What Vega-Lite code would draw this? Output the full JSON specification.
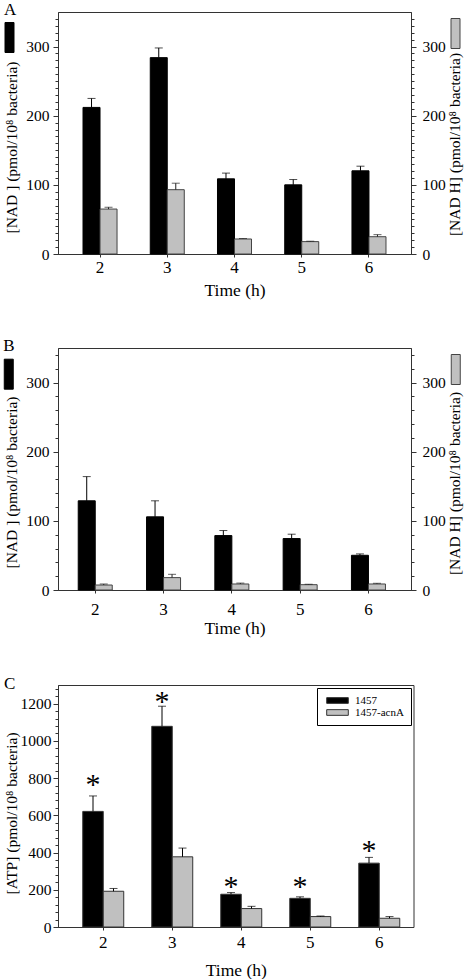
{
  "$schema": "https://vega.github.io/schema/vega-lite/v6.json",
  "padding": {"left": 2, "top": 0, "right": 0, "bottom": 0},
  "background": "white",
  "spacing": 37,
  "config": {
    "view": {"stroke": "#333", "strokeWidth": 1},
    "font": "Liberation Serif",
    "axis": {"labelFont": "Liberation Serif", "titleFont": "Liberation Serif", "titleFontWeight": "normal", "labelColor": "#000", "titleColor": "#000", "domainColor": "#333", "tickColor": "#333", "grid": false, "labelOverlap": false, "labelFlush": false},
    "title": {"font": "Liberation Serif", "fontWeight": "normal", "fontSize": 17, "anchor": "start", "frame": "bounds", "offset": 0, "color": "#000"},
    "legend": {"labelFont": "Liberation Serif"}
  },
  "datasets": {
    "nad": [
      {"panel": "A", "time": "2", "series": "NAD", "value": 212, "err": 225},
      {"panel": "A", "time": "3", "series": "NAD", "value": 284, "err": 298},
      {"panel": "A", "time": "4", "series": "NAD", "value": 108.7, "err": 117},
      {"panel": "A", "time": "5", "series": "NAD", "value": 100, "err": 107.7},
      {"panel": "A", "time": "6", "series": "NAD", "value": 120.3, "err": 127},
      {"panel": "A", "time": "2", "series": "NADH", "value": 65, "err": 67.6},
      {"panel": "A", "time": "3", "series": "NADH", "value": 93, "err": 102.4},
      {"panel": "A", "time": "4", "series": "NADH", "value": 21.7, "err": 22.4},
      {"panel": "A", "time": "5", "series": "NADH", "value": 17.9, "err": 18.5},
      {"panel": "A", "time": "6", "series": "NADH", "value": 25, "err": 28},
      {"panel": "B", "time": "2", "series": "NAD", "value": 129, "err": 164},
      {"panel": "B", "time": "3", "series": "NAD", "value": 105.8, "err": 129},
      {"panel": "B", "time": "4", "series": "NAD", "value": 78.7, "err": 86},
      {"panel": "B", "time": "5", "series": "NAD", "value": 74.4, "err": 80.7},
      {"panel": "B", "time": "6", "series": "NAD", "value": 50.2, "err": 52.2},
      {"panel": "B", "time": "2", "series": "NADH", "value": 7.2, "err": 8.7},
      {"panel": "B", "time": "3", "series": "NADH", "value": 17.9, "err": 22.7},
      {"panel": "B", "time": "4", "series": "NADH", "value": 8.7, "err": 10},
      {"panel": "B", "time": "5", "series": "NADH", "value": 7.7, "err": 8.3},
      {"panel": "B", "time": "6", "series": "NADH", "value": 8.7, "err": 9.7}
    ],
    "atp": [
      {"time": "2", "strain": "1457", "value": 621, "err": 704, "star": 796},
      {"time": "3", "strain": "1457", "value": 1078, "err": 1186, "star": 1239},
      {"time": "4", "strain": "1457", "value": 176, "err": 185, "star": 248},
      {"time": "5", "strain": "1457", "value": 154, "err": 162, "star": 248},
      {"time": "6", "strain": "1457", "value": 343, "err": 374, "star": 442},
      {"time": "2", "strain": "1457-acnA", "value": 192, "err": 207},
      {"time": "3", "strain": "1457-acnA", "value": 377, "err": 424},
      {"time": "4", "strain": "1457-acnA", "value": 99, "err": 111},
      {"time": "5", "strain": "1457-acnA", "value": 56, "err": 59},
      {"time": "6", "strain": "1457-acnA", "value": 47, "err": 56}
    ]
  },
  "vconcat": [
    {
      "title": {"text": "A", "offset": -7.5},
      "width": 353,
      "height": 242,
      "data": {"name": "nad"},
      "transform": [{"filter": "datum.panel === 'A'"}],
      "encoding": {
        "x": {"field": "time", "type": "nominal", "scale": {"paddingInner": 0.494, "paddingOuter": 0.372},
          "axis": {"title": "Time (h)", "labelAngle": 0, "labelFontSize": 17, "titleFontSize": 17.5, "tickSize": 3, "labelPadding": 2, "titlePadding": 6}},
        "xOffset": {"field": "series", "type": "nominal", "scale": {"domain": ["NAD", "NADH"]}}
      },
      "layer": [
        {
          "transform": [{"filter": "datum.series === 'NAD'"}],
          "mark": {"type": "bar", "stroke": "#000", "strokeWidth": 1},
          "encoding": {
            "y": {"field": "value", "type": "quantitative", "scale": {"domain": [0, 350]},
              "axis": {"title": "[NAD ] (pmol/10⁸ bacteria)", "values": [0,10,20,30,40,50,60,70,80,90,100,110,120,130,140,150,160,170,180,190,200,210,220,230,240,250,260,270,280,290,300,310,320,330,340],
                "labelExpr": "datum.value % 100 === 0 ? datum.label : ''", "tickSize": {"condition": {"test": "datum.value % 100 === 0", "value": 5}, "value": 3},
                "labelFontSize": 15.5, "titleFontSize": 15.5, "labelPadding": 4, "titlePadding": 6, "titleY": 135}},
            "fill": {"field": "series", "type": "nominal", "scale": {"domain": ["NAD"], "range": ["#000"]},
              "legend": {"orient": "none", "legendX": -54, "legendY": 20, "title": null, "labelExpr": "''", "padding": 0, "labelOffset": 0, "labelFontSize": 1,
                "symbolType": "M-0.9,-3H0.9V3H-0.9Z", "symbolSize": 100, "symbolStrokeColor": "#000", "symbolStrokeWidth": 1}}
          }
        },
        {
          "transform": [{"filter": "datum.series === 'NAD'"}],
          "mark": {"type": "rule", "color": "#000", "strokeWidth": 1},
          "encoding": {"y": {"field": "value", "type": "quantitative", "scale": {"domain": [0, 350]}, "axis": null}, "y2": {"field": "err"}}
        },
        {
          "transform": [{"filter": "datum.series === 'NAD'"}],
          "mark": {"type": "tick", "color": "#000", "size": 8, "thickness": 1},
          "encoding": {"y": {"field": "err", "type": "quantitative", "scale": {"domain": [0, 350]}, "axis": null}}
        },
        {
          "transform": [{"filter": "datum.series === 'NADH'"}],
          "mark": {"type": "bar", "stroke": "#444", "strokeWidth": 1},
          "encoding": {
            "y": {"field": "value", "type": "quantitative", "scale": {"domain": [0, 350]},
              "axis": {"orient": "right", "title": "[NAD H] (pmol/10⁸ bacteria)", "titleAngle": 270, "titleBaseline": "top", "values": [0,10,20,30,40,50,60,70,80,90,100,110,120,130,140,150,160,170,180,190,200,210,220,230,240,250,260,270,280,290,300,310,320,330,340],
                "labelExpr": "datum.value % 100 === 0 ? datum.label : ''", "tickSize": {"condition": {"test": "datum.value % 100 === 0", "value": 5}, "value": 3},
                "labelFontSize": 15.5, "titleFontSize": 15.5, "labelPadding": 6, "titlePadding": 2, "titleY": 132}},
            "color": {"field": "series", "type": "nominal", "scale": {"domain": ["NADH"], "range": ["#c0c0c0"]},
              "legend": {"orient": "none", "legendX": 392, "legendY": 16, "title": null, "labelExpr": "''", "padding": 0, "labelOffset": 0, "labelFontSize": 1,
                "symbolType": "M-0.9,-3H0.9V3H-0.9Z", "symbolSize": 100, "symbolStrokeColor": "#444", "symbolStrokeWidth": 1}}
          }
        },
        {
          "transform": [{"filter": "datum.series === 'NADH'"}],
          "mark": {"type": "rule", "color": "#222", "strokeWidth": 1},
          "encoding": {"y": {"field": "value", "type": "quantitative", "scale": {"domain": [0, 350]}, "axis": null}, "y2": {"field": "err"}}
        },
        {
          "transform": [{"filter": "datum.series === 'NADH'"}],
          "mark": {"type": "tick", "color": "#222", "size": 8, "thickness": 1},
          "encoding": {"y": {"field": "err", "type": "quantitative", "scale": {"domain": [0, 350]}, "axis": null}}
        }
      ],
      "resolve": {"scale": {"y": "independent"}}
    },
    {
      "title": {"text": "B", "offset": -7.5},
      "width": 353,
      "height": 242,
      "data": {"name": "nad"},
      "transform": [{"filter": "datum.panel === 'B'"}],
      "encoding": {
        "x": {"field": "time", "type": "nominal", "scale": {"paddingInner": 0.502, "paddingOuter": 0.335, "align": 0.442},
          "axis": {"title": "Time (h)", "labelAngle": 0, "labelFontSize": 17, "titleFontSize": 17.5, "tickSize": 3, "labelPadding": 8, "titlePadding": 2}},
        "xOffset": {"field": "series", "type": "nominal", "scale": {"domain": ["NAD", "NADH"]}}
      },
      "layer": [
        {
          "transform": [{"filter": "datum.series === 'NAD'"}],
          "mark": {"type": "bar", "stroke": "#000", "strokeWidth": 1},
          "encoding": {
            "y": {"field": "value", "type": "quantitative", "scale": {"domain": [0, 350]},
              "axis": {"title": "[NAD ] (pmol/10⁸ bacteria)", "values": [0,20,40,60,80,100,120,140,160,180,200,220,240,260,280,300,320,340],
                "labelExpr": "datum.value % 100 === 0 ? datum.label : ''", "tickSize": {"condition": {"test": "datum.value % 100 === 0", "value": 5}, "value": 3},
                "labelFontSize": 15.5, "titleFontSize": 15.5, "labelPadding": 4, "titlePadding": 6, "titleY": 134}},
            "fill": {"field": "series", "type": "nominal", "scale": {"domain": ["NAD"], "range": ["#000"]},
              "legend": {"orient": "none", "legendX": -54.75, "legendY": 20.7, "title": null, "labelExpr": "''", "padding": 0, "labelOffset": 0, "labelFontSize": 1,
                "symbolType": "M-0.9,-3H0.9V3H-0.9Z", "symbolSize": 100, "symbolStrokeColor": "#000", "symbolStrokeWidth": 1}}
          }
        },
        {
          "transform": [{"filter": "datum.series === 'NAD'"}],
          "mark": {"type": "rule", "color": "#000", "strokeWidth": 1},
          "encoding": {"y": {"field": "value", "type": "quantitative", "scale": {"domain": [0, 350]}, "axis": null}, "y2": {"field": "err"}}
        },
        {
          "transform": [{"filter": "datum.series === 'NAD'"}],
          "mark": {"type": "tick", "color": "#000", "size": 8, "thickness": 1},
          "encoding": {"y": {"field": "err", "type": "quantitative", "scale": {"domain": [0, 350]}, "axis": null}}
        },
        {
          "transform": [{"filter": "datum.series === 'NADH'"}],
          "mark": {"type": "bar", "stroke": "#444", "strokeWidth": 1},
          "encoding": {
            "y": {"field": "value", "type": "quantitative", "scale": {"domain": [0, 350]},
              "axis": {"orient": "right", "title": "[NAD H] (pmol/10⁸ bacteria)", "titleAngle": 270, "titleBaseline": "top", "values": [0,20,40,60,80,100,120,140,160,180,200,220,240,260,280,300,320,340],
                "labelExpr": "datum.value % 100 === 0 ? datum.label : ''", "tickSize": {"condition": {"test": "datum.value % 100 === 0", "value": 5}, "value": 3},
                "labelFontSize": 15.5, "titleFontSize": 15.5, "labelPadding": 6, "titlePadding": 2, "titleY": 135}},
            "color": {"field": "series", "type": "nominal", "scale": {"domain": ["NADH"], "range": ["#c0c0c0"]},
              "legend": {"orient": "none", "legendX": 392.25, "legendY": 16, "title": null, "labelExpr": "''", "padding": 0, "labelOffset": 0, "labelFontSize": 1,
                "symbolType": "M-0.9,-3H0.9V3H-0.9Z", "symbolSize": 100, "symbolStrokeColor": "#444", "symbolStrokeWidth": 1}}
          }
        },
        {
          "transform": [{"filter": "datum.series === 'NADH'"}],
          "mark": {"type": "rule", "color": "#222", "strokeWidth": 1},
          "encoding": {"y": {"field": "value", "type": "quantitative", "scale": {"domain": [0, 350]}, "axis": null}, "y2": {"field": "err"}}
        },
        {
          "transform": [{"filter": "datum.series === 'NADH'"}],
          "mark": {"type": "tick", "color": "#222", "size": 8, "thickness": 1},
          "encoding": {"y": {"field": "err", "type": "quantitative", "scale": {"domain": [0, 350]}, "axis": null}}
        }
      ],
      "resolve": {"scale": {"y": "independent"}}
    },
    {
      "title": {"text": "C", "offset": -11},
      "width": 355.5,
      "height": 242,
      "data": {"name": "atp"},
      "encoding": {
        "x": {"field": "time", "type": "nominal", "scale": {"paddingInner": 0.406, "paddingOuter": 0.279, "align": 0.643},
          "axis": {"title": "Time (h)", "labelAngle": 0, "labelFontSize": 17, "titleFontSize": 17.5, "tickSize": 3, "labelPadding": 4, "titlePadding": 11}},
        "xOffset": {"field": "strain", "type": "nominal", "scale": {"domain": ["1457", "1457-acnA"]}}
      },
      "layer": [
        {
          "mark": {"type": "bar", "stroke": "#333", "strokeWidth": 1},
          "encoding": {
            "y": {"field": "value", "type": "quantitative", "scale": {"domain": [0, 1300]},
              "axis": {"title": "[ATP] (pmol/10⁸ bacteria)", "format": "d", "values": [0,40,80,120,160,200,240,280,320,360,400,440,480,520,560,600,640,680,720,760,800,840,880,920,960,1000,1040,1080,1120,1160,1200,1240,1280],
                "labelExpr": "datum.value % 200 === 0 ? datum.label : ''", "tickSize": {"condition": {"test": "datum.value % 200 === 0", "value": 5}, "value": 3},
                "labelFontSize": 15.5, "titleFontSize": 15.5, "labelPadding": 2, "titlePadding": 1, "titleY": 128}},
            "color": {"field": "strain", "type": "nominal", "scale": {"domain": ["1457", "1457-acnA"], "range": ["#000", "#c0c0c0"]},
              "legend": {"orient": "top-right", "offset": 3, "title": null, "strokeColor": "#000", "fillColor": "#fff", "padding": 7,
                "labelFontSize": 11, "labelColor": "#000", "symbolType": "M-3.6,-0.95H3.6V0.95H-3.6Z", "symbolSize": 36, "symbolStrokeColor": "#333", "symbolStrokeWidth": 1,
                "symbolOffset": 8, "labelOffset": 12, "rowPadding": 0}}
          }
        },
        {
          "mark": {"type": "rule", "color": "#000", "strokeWidth": 1},
          "encoding": {"y": {"field": "value", "type": "quantitative", "scale": {"domain": [0, 1300]}, "axis": null}, "y2": {"field": "err"}}
        },
        {
          "mark": {"type": "tick", "color": "#000", "size": 8, "thickness": 1},
          "encoding": {"y": {"field": "err", "type": "quantitative", "scale": {"domain": [0, 1300]}, "axis": null}}
        },
        {
          "transform": [{"filter": "datum.star != null"}],
          "mark": {"type": "text", "text": "*", "fontSize": 30, "font": "Liberation Serif", "baseline": "middle", "dy": 6, "color": "#000"},
          "encoding": {"y": {"field": "star", "type": "quantitative", "scale": {"domain": [0, 1300]}, "axis": null}}
        }
      ],
      "resolve": {"scale": {"y": "independent"}}
    }
  ],
  "resolve": {
    "scale": {"color": "independent", "fill": "independent", "x": "independent", "y": "independent", "xOffset": "independent"},
    "legend": {"color": "independent", "fill": "independent"}
  }
}
